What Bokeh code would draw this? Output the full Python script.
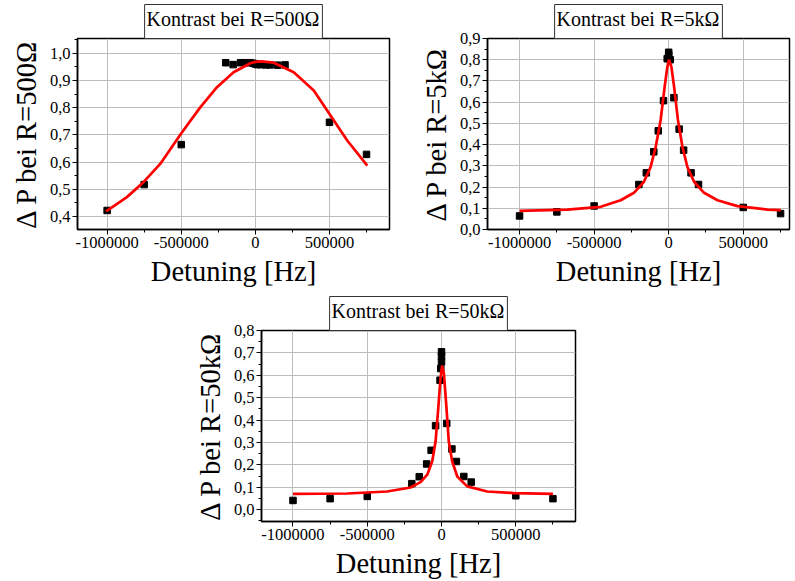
from bokeh.plotting import figure
from bokeh.layouts import column, row
from bokeh.models import (Spacer, Title, SingleIntervalTicker, CustomJSTickFormatter,
                          Range1d)
from bokeh.embed import file_html
from bokeh.resources import INLINE

# ---------------- data ----------------
titles = ["Kontrast bei R=500Ω", "Kontrast bei R=5kΩ", "Kontrast bei R=50kΩ"]
ylabels = ["Δ P bei R=500Ω", "Δ P bei R=5kΩ", "Δ P bei R=50kΩ"]
xlabel = "Detuning [Hz]"

x1 = [-1000000, -750000, -500000, -200000, -150000, -100000, -70000, -35000, -15000,
      0, 15000, 35000, 70000, 100000, 150000, 200000, 500000, 750000]
y1 = [0.422, 0.517, 0.664, 0.965, 0.958, 0.965, 0.965, 0.965, 0.963,
      0.960, 0.958, 0.958, 0.957, 0.957, 0.956, 0.957, 0.746, 0.628]
fit1_x = [-1007000, -867000, -755000, -642000, -502000, -372000, -259000, -147000,
          -34000, 0, 40000, 124000, 259000, 394000, 507000, 620000, 755000]
fit1_y = [0.419, 0.471, 0.526, 0.593, 0.704, 0.801, 0.875, 0.930,
          0.963, 0.968, 0.970, 0.965, 0.930, 0.863, 0.771, 0.679, 0.587]

x2 = [-1000000, -750000, -500000, -200000, -150000, -100000, -70000, -35000, -10000,
      0, 0, 10000, 35000, 70000, 100000, 150000, 200000, 500000, 750000]
y2 = [0.064, 0.083, 0.111, 0.212, 0.267, 0.366, 0.465, 0.607, 0.805,
      0.835, 0.822, 0.800, 0.621, 0.473, 0.374, 0.267, 0.212, 0.104, 0.075]
fit2_x = [-1000000, -680000, -456000, -322000, -233000, -166000, -121000, -87000, -54000,
          -27000, -9000, 2000, 18000, 36000, 62000, 92000, 125000, 170000, 237000,
          327000, 461000, 662000, 752000]
fit2_y = [0.088, 0.094, 0.107, 0.138, 0.173, 0.225, 0.295, 0.390, 0.516,
          0.673, 0.767, 0.800, 0.767, 0.673, 0.516, 0.390, 0.295, 0.225, 0.173,
          0.138, 0.110, 0.094, 0.091]

x3 = [-1000000, -750000, -500000, -200000, -150000, -100000, -70000, -40000, -10000,
      -5000, 0, 0, 0, 35000, 70000, 100000, 150000, 200000, 500000, 750000]
y3 = [0.041, 0.049, 0.059, 0.116, 0.147, 0.204, 0.265, 0.375, 0.578,
      0.630, 0.660, 0.685, 0.705, 0.385, 0.271, 0.215, 0.148, 0.123, 0.062, 0.049]
fit3_x = [-1000000, -635000, -366000, -209000, -141000, -96000, -63000, -40000, -22000,
          -7000, 4000, 16000, 32000, 49000, 72000, 106000, 173000, 308000, 487000, 750000]
fit3_y = [0.070, 0.072, 0.081, 0.099, 0.123, 0.156, 0.215, 0.304, 0.452,
          0.585, 0.644, 0.607, 0.467, 0.304, 0.215, 0.148, 0.104, 0.081, 0.074, 0.070]

SERIF = "Liberation Serif"


def make(title, ylabel, xs, ys, fx, fy, xr, yr, w, h, bl, br, bt, bb):
    p = figure(width=w, height=h, output_backend="svg", toolbar_location=None,
               x_range=Range1d(*xr), y_range=Range1d(*yr),
               min_border_left=bl, min_border_right=br,
               min_border_top=bt, min_border_bottom=bb)
    p.title = Title(text=title, align="center", text_font="'Liberation Serif', serif",
                    text_font_size="20px", text_font_style="normal",
                    text_color="black", border_line_color="#333333",
                    border_line_width=1, background_fill_color="white",
                    standoff=0, padding=(2, 3, 3, 9))
    p.background_fill_color = "white"
    p.border_fill_color = "white"
    p.outline_line_color = "black"
    p.outline_line_width = 1.5

    p.xaxis.ticker = SingleIntervalTicker(interval=500000, num_minor_ticks=2)
    p.yaxis.ticker = SingleIntervalTicker(interval=0.1, num_minor_ticks=2)
    p.xaxis.formatter = CustomJSTickFormatter(code="return tick.toFixed(0);")
    p.yaxis.formatter = CustomJSTickFormatter(
        code="return tick.toFixed(1).replace('.', ',');")
    for ax in (p.xaxis, p.yaxis):
        ax.axis_line_color = "black"
        ax.axis_line_width = 1.5
        ax.major_tick_in = 0
        ax.major_tick_out = 5
        ax.minor_tick_in = 0
        ax.minor_tick_out = 3
        ax.major_tick_line_color = "black"
        ax.minor_tick_line_color = "black"
        ax.major_label_text_font = SERIF
        ax.major_label_text_font_size = "16.5px"
        ax.major_label_text_color = "black"
        ax.axis_label_text_font = SERIF
        ax.axis_label_text_font_size = "28.5px"
        ax.axis_label_text_font_style = "normal"
        ax.axis_label_text_color = "black"
        ax.major_label_standoff = 2
        ax.axis_label_standoff = 5
    p.xaxis.axis_label = xlabel
    p.yaxis.axis_label = ylabel
    p.grid.grid_line_color = "#bdbdbd"
    p.grid.grid_line_width = 1

    p.scatter(xs, ys, marker="square", size=6.5, color="black")
    p.line(fx, fy, line_color="#ff0000", line_width=2.7)
    return p


p1 = make(titles[0], ylabels[0], x1, y1, fit1_x, fit1_y,
          (-1200000, 905000), (0.352, 1.054), 400, 290, 77, 11, 38, 61)
p2 = make(titles[1], ylabels[1], x2, y2, fit2_x, fit2_y,
          (-1215000, 810000), (0.0, 0.9), 395, 290, 87, 6, 38, 61)
p3 = make(titles[2], ylabels[2], x3, y3, fit3_x, fit3_y,
          (-1212000, 902000), (-0.053, 0.8), 440, 291, 81, 45, 40, 59)

layout = column(row(p1, p2), row(Spacer(width=180, height=291), p3))

open("out.html", "w").write(file_html(layout, INLINE))
